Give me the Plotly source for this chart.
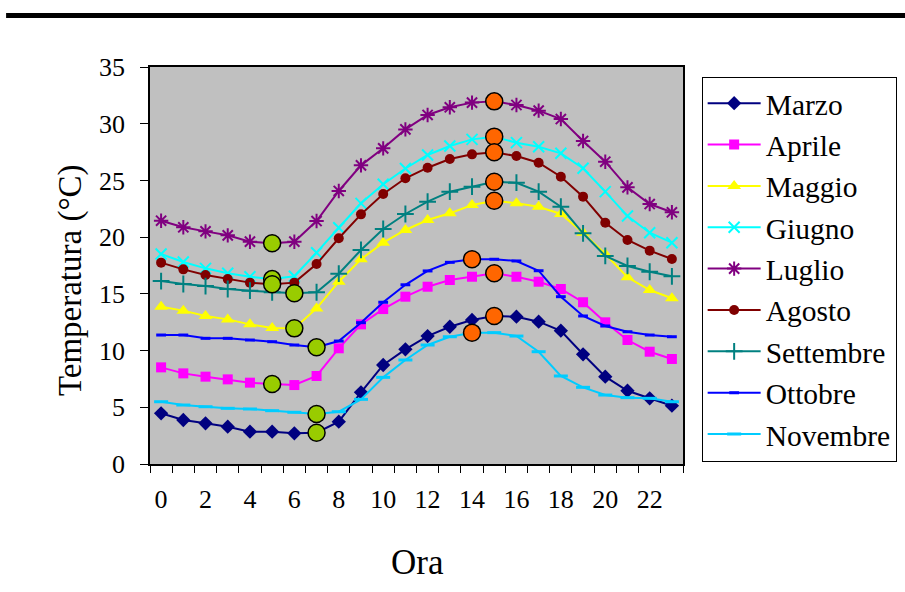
import plotly.graph_objects as go

hours = list(range(24))

marzo = [4.47, 3.88, 3.59, 3.29, 2.85, 2.85, 2.70, 2.76, 3.73, 6.32, 8.73, 10.11,
         11.28, 12.10, 12.70, 13.05, 12.99, 12.55, 11.75, 9.67, 7.70, 6.46, 5.79, 5.14]
aprile = [8.52, 7.99, 7.70, 7.46, 7.17, 7.05, 6.96, 7.76, 10.20, 12.31, 13.66, 14.75,
          15.63, 16.22, 16.51, 16.81, 16.51, 16.07, 15.43, 14.26, 12.49, 10.93, 9.90, 9.26]
maggio = [13.87, 13.52, 13.05, 12.75, 12.31, 12.00, 11.96, 13.72, 16.07, 18.05, 19.51, 20.63,
          21.51, 22.10, 22.83, 23.21, 22.98, 22.68, 22.04, 20.39, 18.51, 16.46, 15.34, 14.61]
giugno = [18.51, 17.81, 17.25, 16.81, 16.51, 16.30, 16.55, 18.63, 20.83, 22.98, 24.66, 26.05,
          27.24, 28.03, 28.62, 28.86, 28.33, 27.97, 27.39, 26.07, 24.01, 21.86, 20.39, 19.51]
luglio = [21.45, 20.87, 20.51, 20.16, 19.60, 19.46, 19.60, 21.42, 24.07, 26.33, 27.83, 29.50,
          30.77, 31.45, 31.86, 31.97, 31.65, 31.15, 30.41, 28.48, 26.65, 24.39, 22.92, 22.19]
agosto = [17.75, 17.16, 16.66, 16.30, 15.99, 15.84, 15.99, 17.63, 19.90, 22.01, 23.80, 25.19,
          26.12, 26.89, 27.30, 27.48, 27.15, 26.56, 25.33, 23.57, 21.27, 19.75, 18.81, 18.07]
settembre = [16.13, 15.87, 15.69, 15.43, 15.28, 15.14, 15.05, 15.14, 16.78, 18.87, 20.72, 22.04,
             23.13, 24.01, 24.45, 24.89, 24.80, 24.01, 22.68, 20.34, 18.34, 17.46, 16.95, 16.55]
ottobre = [11.37, 11.37, 11.08, 11.08, 10.93, 10.78, 10.49, 10.29, 10.84, 12.46, 14.26, 15.80,
           17.02, 17.78, 18.05, 18.05, 17.90, 17.04, 14.75, 13.05, 12.17, 11.66, 11.37, 11.22]
novembre = [5.49, 5.20, 5.05, 4.91, 4.85, 4.70, 4.56, 4.41, 4.61, 5.70, 7.64, 9.17,
            10.49, 11.22, 11.58, 11.58, 11.28, 9.90, 7.76, 6.76, 6.08, 5.85, 5.79, 5.49]

months = ["Marzo", "Aprile", "Maggio", "Giugno", "Luglio",
          "Agosto", "Settembre", "Ottobre", "Novembre"]
series = [marzo, aprile, maggio, giugno, luglio, agosto, settembre, ottobre, novembre]

# hour of the daily minimum / maximum marked on each curve
min_hour = [7, 5, 6, 5, 5, 5, 6, 7, 7]
max_hour = [15, 15, 15, 15, 15, 15, 15, 14, 14]

x_ticks = list(range(0, 24, 2))
y_ticks = list(range(0, 36, 5))

colors = ["#000080", "#FF00FF", "#FFFF00", "#00FFFF", "#800080",
          "#800000", "#008080", "#0000FF", "#00CCFF"]
markers = [
    dict(symbol="diamond", size=11),
    dict(symbol="square", size=10),
    dict(symbol="triangle-up", size=12),
    dict(symbol="x-thin", size=11, line=dict(width=2)),
    dict(symbol="asterisk", size=12, line=dict(width=2)),
    dict(symbol="circle", size=10),
    dict(symbol="cross-thin", size=12, line=dict(width=2)),
    dict(symbol="line-ew", size=7, line=dict(width=3)),
    dict(symbol="line-ew", size=10, line=dict(width=3)),
]

FONT = "Liberation Serif"

fig = go.Figure()
for name, vals, col, mk in zip(months, series, colors, markers):
    m = dict(mk)
    m["color"] = col
    if "line" in m:
        m["line"] = dict(m["line"], color=col)
    fig.add_trace(go.Scatter(x=hours, y=vals, name=name, mode="lines+markers",
                             line=dict(color=col, width=2), marker=m))

# highlighted minima (green) and maxima (orange)
fig.add_trace(go.Scatter(
    x=min_hour, y=[s[h] for s, h in zip(series, min_hour)], mode="markers",
    marker=dict(symbol="circle", size=17, color="#99CC00",
                line=dict(color="black", width=1.5)),
    showlegend=False, hoverinfo="skip"))
fig.add_trace(go.Scatter(
    x=max_hour, y=[s[h] for s, h in zip(series, max_hour)], mode="markers",
    marker=dict(symbol="circle", size=17, color="#FF6600",
                line=dict(color="black", width=1.5)),
    showlegend=False, hoverinfo="skip"))

# invisible trace on the label axis so it is drawn
fig.add_trace(go.Scatter(x=[0], y=[0], xaxis="x2", mode="markers",
                         marker=dict(opacity=0), showlegend=False, hoverinfo="skip"))

boundaries = [h - 0.5 for h in range(25)]

fig.update_layout(
    width=905, height=592,
    margin=dict(l=150, r=222, t=67, b=128, autoexpand=False),
    paper_bgcolor="white",
    plot_bgcolor="#C0C0C0",
    font=dict(family=FONT, color="black", size=26),
    xaxis=dict(range=[-0.5, 23.5], tickvals=boundaries, ticktext=[""] * 25,
               ticks="outside", ticklen=7, tickwidth=1, tickcolor="black",
               showgrid=False, zeroline=False, showline=True, linecolor="black",
               linewidth=1.5, mirror=True),
    xaxis2=dict(range=[-0.5, 23.5], overlaying="x", anchor="y", side="bottom",
                tickvals=x_ticks, ticktext=[str(h) for h in x_ticks],
                ticks="", ticklabelstandoff=17, showgrid=False, zeroline=False,
                showline=False, tickfont=dict(size=26, family=FONT)),
    yaxis=dict(range=[0, 35], tickvals=y_ticks,
               ticks="outside", ticklen=8, tickwidth=1, tickcolor="black",
               ticklabelstandoff=10, showgrid=False, zeroline=False,
               showline=True, linecolor="black", linewidth=1.5, mirror=True,
               tickfont=dict(size=26, family=FONT)),
    legend=dict(x=1.035, y=0.976, xanchor="left", yanchor="top",
                bgcolor="white", bordercolor="black", borderwidth=1,
                font=dict(size=29.5, family=FONT), tracegroupgap=0,
                itemwidth=53),
    shapes=[dict(type="rect", xref="paper", yref="paper",
                 x0=-0.27, x1=1.42, y0=1.1234, y1=1.136,
                 fillcolor="black", line=dict(width=0))],
    annotations=[
        dict(text="Temperatura (°C)", xref="paper", yref="paper",
             x=-0.148, y=0.4635, xanchor="center", yanchor="middle",
             textangle=-90, showarrow=False, font=dict(size=33, family=FONT)),
        dict(text="Ora", xref="paper", yref="paper",
             x=0.501, y=-0.2469, xanchor="center", yanchor="middle",
             showarrow=False, font=dict(size=35, family=FONT)),
    ],
)

fig.write_html("out.html")
